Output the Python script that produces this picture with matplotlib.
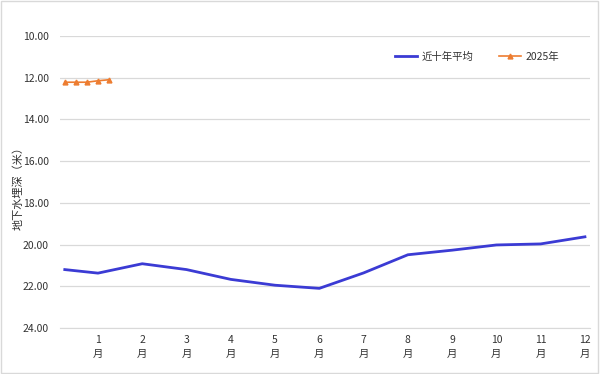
import matplotlib
matplotlib.use("Agg")
import matplotlib.pyplot as plt
from matplotlib.patches import Rectangle

plt.rcParams['font.family'] = ['Noto Sans CJK SC', 'DejaVu Sans']

# Data
avg_x = [0.25, 1, 2, 3, 4, 5, 6, 7, 8, 9, 10, 11, 12]
avg_y = [21.2, 21.37, 20.92, 21.2, 21.67, 21.95, 22.1, 21.36, 20.49, 20.27, 20.02, 19.97, 19.63]
cur_x = [0.25, 0.5, 0.75, 1.0, 1.25]
cur_y = [12.22, 12.22, 12.22, 12.15, 12.1]
months = list(range(1, 13))
month_labels = [f"{m}\n月" for m in months]
y_ticks = [10, 12, 14, 16, 18, 20, 22, 24]
series_names = ["近十年平均", "2025年"]

fig = plt.figure(figsize=(6.0, 3.74), dpi=100)
fig.patches.append(Rectangle((0.002, 0.003), 0.995, 0.994, transform=fig.transFigure,
                             fill=False, edgecolor="#d9d9d9", linewidth=1.0))
ax = fig.add_axes([0.1, 0.123, 0.883, 0.781])

ax.plot(avg_x, avg_y, color="#3b3bd4", linewidth=2.0, label=series_names[0], zorder=3)
ax.plot(cur_x, cur_y, color="#ed7d31", linewidth=1.2, marker="^", markersize=3.5,
        label=series_names[1], zorder=4)

ax.set_xlim(0.142, 12.11)
ax.set_ylim(24, 10)
ax.set_yticks(y_ticks)
ax.set_yticklabels([f"{v:.2f}" for v in y_ticks])
ax.set_xticks(months)
ax.set_xticklabels(month_labels, linespacing=1.5)

ax.grid(axis="y", color="#d9d9d9", linewidth=0.9)
ax.set_axisbelow(True)
for s in ["top", "right", "left"]:
    ax.spines[s].set_visible(False)
ax.spines["bottom"].set_color("#d9d9d9")
ax.tick_params(axis="both", length=0, labelsize=7.5, labelcolor="#333333")
ax.tick_params(axis="x", pad=5)
ax.tick_params(axis="y", pad=8)

fig.text(0.03, 0.505, "地下水埋深（米）", rotation=90, va="center", ha="center",
         fontsize=8, color="#333333")

ax.legend(loc="upper left", bbox_to_anchor=(0.632, 0.946), ncol=2, frameon=False,
          borderpad=0, borderaxespad=0, fontsize=7.5, handlelength=2.1,
          handletextpad=0.5, columnspacing=2.4, labelcolor="#333333")

fig.savefig("out.png", dpi=100)
